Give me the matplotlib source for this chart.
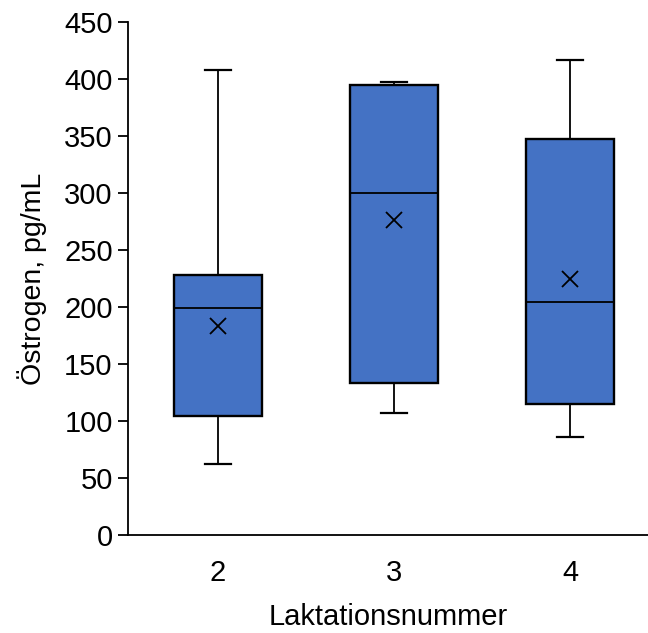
import matplotlib.pyplot as plt

plt.rcParams['font.family'] = ['Arial', 'Liberation Sans', 'DejaVu Sans']

# Östrogen per Laktationsnummer (box summary values)
categories = ['2', '3', '4']
whislo = [62, 107, 86]
q1 = [104, 133, 115]
med = [199, 300, 204]
q3 = [228, 395, 347]
whishi = [408, 397, 417]
means = [183, 276, 225]

stats = []
for i in range(len(categories)):
    stats.append({'label': categories[i], 'whislo': whislo[i], 'q1': q1[i],
                  'med': med[i], 'q3': q3[i], 'whishi': whishi[i],
                  'mean': means[i], 'fliers': []})

fig = plt.figure(figsize=(6.48, 6.33), dpi=100)
ax = fig.add_axes([0.1975, 0.1548, 0.8025, 0.8104])

ax.bxp(stats, positions=[1, 2, 3], widths=0.5, patch_artist=True,
       showmeans=True, showfliers=False,
       boxprops=dict(facecolor='#4472C4', edgecolor='black', linewidth=1.7),
       medianprops=dict(color='black', linewidth=1.3),
       whiskerprops=dict(color='black', linewidth=1.3),
       capprops=dict(color='black', linewidth=1.6),
       capwidths=0.15,
       meanprops=dict(marker='x', markeredgecolor='black', markersize=12,
                      markeredgewidth=1.3))

ax.set_xlim(0.489, 3.443)
ax.set_ylim(0, 450)
ax.set_yticks(range(0, 451, 50))
ax.set_xticklabels(categories)

for s in ['top', 'right']:
    ax.spines[s].set_visible(False)
for s in ['left', 'bottom']:
    ax.spines[s].set_linewidth(1.3)

ax.tick_params(axis='y', labelsize=21, length=7, width=1.3, pad=4)
ax.tick_params(axis='x', labelsize=21, length=0, pad=17)

ax.set_ylabel('Östrogen, pg/mL', fontsize=20.5, labelpad=12)
ax.set_xlabel('Laktationsnummer', fontsize=21, labelpad=12)

fig.savefig('out.png', dpi=100)
